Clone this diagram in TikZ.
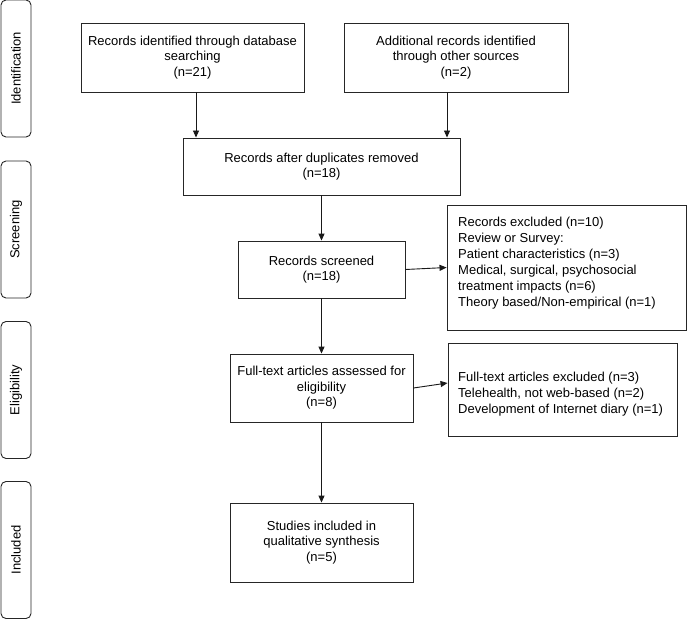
\documentclass[tikz,border=0pt]{standalone}
\usepackage{fontspec}
\setmainfont{Liberation Sans}
\usetikzlibrary{arrows.meta}
\begin{document}
\begin{tikzpicture}[x=1pt,y=-1pt,
  box/.style={draw=black!85, line width=0.9pt, rectangle, align=center, inner sep=0pt, font=\fontsize{13}{15.5}\selectfont},
  side/.style={draw=black!85, line width=0.9pt, rounded corners=5pt, rotate=90, minimum width=137pt, minimum height=30pt, inner sep=0pt, font=\fontsize{13}{15.5}\selectfont},
  arr/.style={-{Triangle[length=7pt,width=6pt]}, line width=0.9pt, black!90},
  note/.style={align=left, anchor=west, inner sep=0pt, font=\fontsize{13}{16}\selectfont}
]
\useasboundingbox (0,0) rectangle (687,620);
\fill[white] (0,0) rectangle (687,620);

% phase labels
\node[side] (sid) at (16,68.5) {Identification};
\node[side] (ssc) at (16,229.5) {Screening};
\node[side] (sel) at (16,390) {Eligibility};
\node[side] (sin) at (16,550) {Included};

% main boxes
\node[box, minimum width=223pt, minimum height=69pt] (db) at (192.5,57.5) {Records identified through database\\searching\\(n=21)};
\node[box, minimum width=224pt, minimum height=69pt] (oth) at (456,57.5) {Additional records identified\\through other sources\\(n=2)};
\node[box, minimum width=277pt, minimum height=57pt] (dup) at (321.5,166.5) {Records after duplicates removed\\(n=18)};
\node[box, minimum width=167pt, minimum height=57pt] (scr) at (321.5,269.5) {Records screened\\(n=18)};
\node[box, minimum width=183pt, minimum height=68pt] (full) at (321.5,388) {Full-text articles assessed for\\eligibility\\(n=8)};
\node[box, minimum width=183pt, minimum height=79pt] (inc) at (321.5,542.5) {Studies included in\\qualitative synthesis\\(n=5)};

% exclusion boxes
\node[box, minimum width=239pt, minimum height=125pt] (ex1) at (566.5,267.5) {};
\node[note] (ex1t) at (458,263) {Records excluded (n=10)\\Review or Survey:\\Patient characteristics (n=3)\\Medical, surgical, psychosocial\\treatment impacts (n=6)\\Theory based/Non-empirical (n=1)};
\node[box, minimum width=229pt, minimum height=93pt] (ex2) at (562.5,389.5) {};
\node[note] (ex2t) at (458,394) {Full-text articles excluded (n=3)\\Telehealth, not web-based (n=2)\\Development of Internet diary (n=1)};

% connectors
\path (db.south) ++(3.5,0) coordinate (dbs);
\path (oth.south) ++(-9,0) coordinate (oths);
\draw[arr] (dbs) -- (dbs |- dup.north);
\draw[arr] (oths) -- (oths |- dup.north);
\draw[arr] (dup.south) -- (scr.north);
\draw[arr] (scr.south) -- (full.north);
\draw[arr] (full.south) -- (inc.north);
\draw[arr] (scr.east) -- (ex1.west);
\draw[arr] (full.east) -- ([yshift=6.5pt]ex2.west);
\end{tikzpicture}
\end{document}
